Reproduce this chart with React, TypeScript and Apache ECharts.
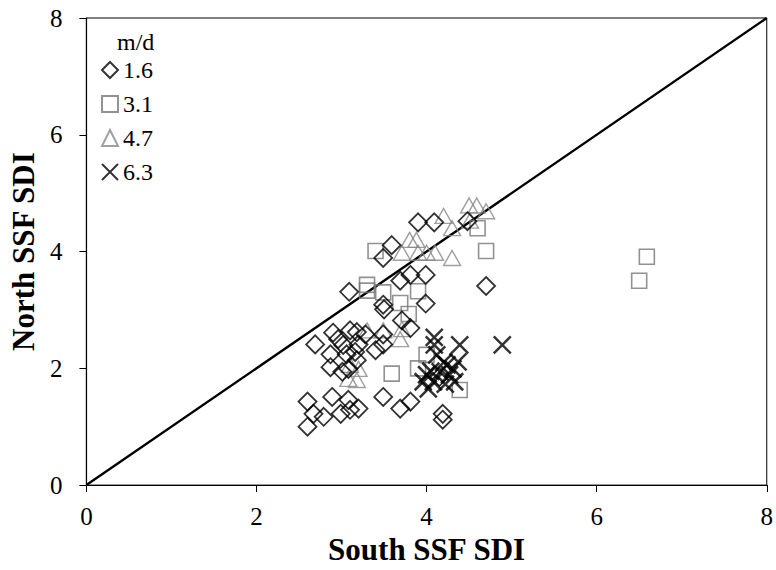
import React, { useEffect, useRef } from "react";
import * as echarts from "echarts";

const xTicks = [0, 2, 4, 6, 8];
const seriesNames = ["1.6", "3.1", "4.7", "6.3"];

const diamonds: number[][] = [
  [3.9, 4.5], [4.09, 4.5], [4.48, 4.52], [3.59, 4.11], [3.49, 3.89], [3.81, 3.6], [3.99, 3.6],
  [3.69, 3.5], [4.7, 3.41], [3.09, 3.31], [3.49, 3.09], [3.5, 3.01], [3.99, 3.11], [3.71, 2.82],
  [3.81, 2.69], [2.69, 2.41], [2.9, 2.61], [2.96, 2.5], [3.1, 2.65], [3.18, 2.62], [3.28, 2.58],
  [3.2, 2.41], [3.4, 2.31], [3.49, 2.58], [3.49, 2.41], [3.02, 2.4], [2.87, 2.24], [3.06, 2.24],
  [3.16, 2.28], [2.87, 2.02], [3.01, 1.94], [3.08, 1.99], [3.18, 2.14], [2.6, 1.43], [2.89, 1.51],
  [3.08, 1.46], [2.67, 1.22], [2.79, 1.17], [2.99, 1.22], [3.1, 1.29], [3.2, 1.31], [2.6, 1.0],
  [3.49, 1.51], [3.69, 1.31], [3.81, 1.43], [4.19, 1.22], [4.19, 1.12], [4.15, 1.85],
];

const squares: number[][] = [
  [3.4, 4.01], [4.6, 4.4], [4.7, 4.01], [3.3, 3.43], [3.3, 3.33], [3.49, 3.3], [3.9, 3.32],
  [3.69, 3.12], [3.79, 2.93], [4.0, 2.23], [3.9, 2.0], [3.59, 1.91], [4.39, 1.63], [6.59, 3.91],
  [6.5, 3.5],
];

const triangles: number[][] = [
  [4.5, 4.79], [4.59, 4.79], [4.7, 4.69], [4.2, 4.61], [4.3, 4.4], [4.51, 4.53], [3.8, 4.2],
  [3.88, 4.2], [3.71, 3.98], [3.9, 3.98], [4.0, 3.98], [4.1, 3.98], [4.3, 3.89], [3.3, 2.65],
  [3.49, 2.65], [3.69, 2.5], [3.71, 2.67], [3.2, 1.99], [3.08, 1.82], [3.18, 1.8], [3.1, 2.06],
];

const crosses: number[][] = [
  [4.09, 2.53], [4.39, 2.4], [4.89, 2.4], [4.09, 2.4], [4.12, 2.23], [4.24, 2.06], [4.37, 2.11],
  [4.0, 1.89], [4.08, 1.77], [4.16, 1.94], [4.27, 1.89], [4.33, 1.77], [4.02, 1.65], [4.22, 1.73],
  [4.31, 1.99], [3.96, 1.77], [4.2, 2.1], [4.05, 1.95],
];

const diagonal: number[][] = [
  [0, 0],
  [8, 8],
];

const FONT = "'Liberation Serif', 'Times New Roman', serif";

export default function App() {
  const ref = useRef<HTMLDivElement>(null);
  useEffect(() => {
    if (!ref.current) return;
    const chart = echarts.init(ref.current, null, { renderer: "svg" });
    const hollow = (c: string, w: number) => ({ color: "rgba(0,0,0,0)", borderColor: c, borderWidth: w });
    chart.setOption({
      animation: false,
      backgroundColor: "#fff",
      textStyle: { fontFamily: FONT },
      grid: { left: 84, right: 9, top: 18, bottom: 82, show: true, borderColor: "#000", borderWidth: 1, backgroundColor: "transparent" },
      xAxis: {
        type: "value",
        min: 0,
        max: 8,
        interval: 2,
        name: "South SSF SDI",
        nameLocation: "middle",
        nameGap: 47,
        nameTextStyle: { fontFamily: FONT, fontSize: 31, fontWeight: "bold", color: "#000" },
        axisLine: { lineStyle: { color: "#000", width: 1.2 } },
        axisTick: { show: true, length: 7, lineStyle: { color: "#000" } },
        axisLabel: { fontFamily: FONT, fontSize: 25, color: "#000", margin: 19, formatter: (v: number) => (xTicks.includes(v) ? String(v) : "") },
        splitLine: { show: false },
      },
      yAxis: {
        type: "value",
        min: 0,
        max: 8,
        interval: 2,
        name: "North SSF SDI",
        nameLocation: "middle",
        nameGap: 43,
        nameTextStyle: { fontFamily: FONT, fontSize: 31, fontWeight: "bold", color: "#000" },
        axisLine: { show: true, lineStyle: { color: "#000", width: 1.2 } },
        axisTick: { show: true, length: 7, lineStyle: { color: "#000" } },
        axisLabel: { fontFamily: FONT, fontSize: 25, color: "#000", margin: 24 },
        splitLine: { show: false },
      },
      legend: {
        orient: "vertical",
        left: 96,
        top: 53,
        itemWidth: 16,
        itemHeight: 16,
        itemGap: 10,
        data: seriesNames,
        textStyle: { fontFamily: FONT, fontSize: 24, color: "#000", padding: [0, 0, 0, 0] },
      },
      graphic: [
        { type: "text", left: 117, top: 30, style: { text: "m/d", font: `24px ${FONT}`, fill: "#000" } },
      ],
      series: [
        {
          type: "line",
          data: diagonal,
          symbol: "none",
          lineStyle: { color: "#000", width: 2.4 },
          silent: true,
          z: 1,
        },
        {
          name: seriesNames[0],
          type: "scatter",
          data: diamonds,
          symbol: "diamond",
          symbolSize: 18,
          itemStyle: hollow("#000", 1.8),
          z: 3,
        },
        {
          name: seriesNames[1],
          type: "scatter",
          data: squares,
          symbol: "rect",
          symbolSize: 15,
          itemStyle: hollow("#777", 1.6),
          z: 2,
        },
        {
          name: seriesNames[2],
          type: "scatter",
          data: triangles,
          symbol: "triangle",
          symbolSize: [17, 15],
          itemStyle: hollow("#888", 1.4),
          z: 2,
        },
        {
          name: seriesNames[3],
          type: "scatter",
          data: crosses,
          symbol: "path://M0,0L10,10M10,0L0,10",
          symbolSize: 17,
          itemStyle: hollow("#000", 2.5),
          z: 4,
        },
      ],
    });
    return () => chart.dispose();
  }, []);
  return <div ref={ref} style={{ width: 776, height: 570, position: "absolute", left: 0, top: 0 }} />;
}
